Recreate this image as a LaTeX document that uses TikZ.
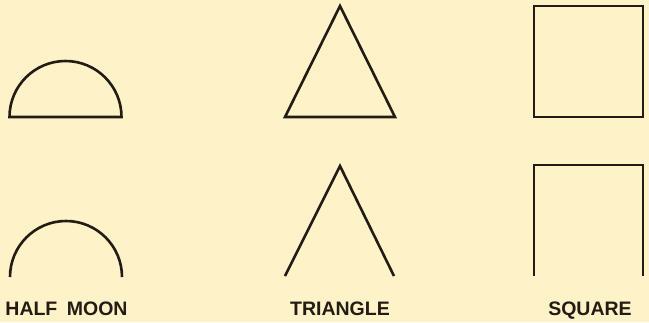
\documentclass[tikz,border=0pt]{standalone}
\usepackage{fontspec}
\setmainfont{Liberation Sans}
\definecolor{bg}{RGB}{254,242,200}
\definecolor{ink}{RGB}{35,28,20}
\begin{document}
\begin{tikzpicture}[x=1pt,y=-1pt,
  shapeline/.style={draw=ink,line width=2.6pt,line join=miter,line cap=butt},
  lbl/.style={font=\bfseries\fontsize{19.5}{20}\selectfont,text=ink,inner sep=0pt,anchor=base}]
\fill[bg] (0,0) rectangle (649,322);
\useasboundingbox (0,0) rectangle (649,322);
% closed shapes (top row)
\draw[shapeline] (9.5,117) arc[start angle=180,end angle=0,radius=56pt] -- cycle;
\draw[shapeline] (340,6) -- (395,117) -- (285,117) -- cycle;
\draw[shapeline] (534,6) rectangle (643,117);
% open shapes (bottom row)
\draw[shapeline] (10,277) arc[start angle=180,end angle=0,radius=56pt];
\draw[shapeline] (285,276) -- (340,166) -- (394,276);
\draw[shapeline] (534,276) -- (534,165) -- (643,165) -- (643,276);
% labels
\node[lbl] (halfmoon) at (66.5,315) {HALF\hspace{9.5pt}MOON};
\node[lbl] (triangle) at (340,315) {TRIANGLE};
\node[lbl] (square) at (590,315) {SQUARE};
\end{tikzpicture}
\end{document}
